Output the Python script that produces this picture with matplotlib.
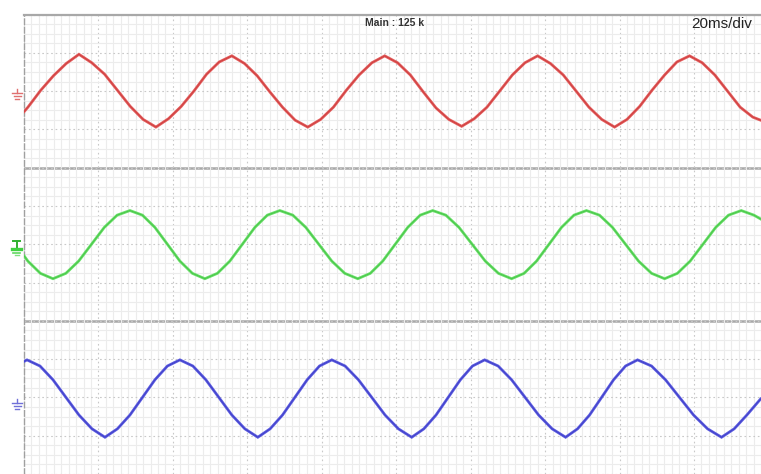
import matplotlib
matplotlib.use("Agg")
import matplotlib.pyplot as plt
from matplotlib.lines import Line2D

# Time base 20 ms/div; traces in screen divisions relative to each channel's ground level
t_red = [0.0, 1.06, 4.49, 7.91, 11.34, 14.77,
         18.21, 21.66, 25.11, 28.55, 32.0, 35.44,
         38.84, 42.24, 45.64, 49.04, 52.44, 55.84,
         59.24, 62.64, 66.04, 69.44, 72.84, 76.24,
         79.69, 83.13, 86.58, 90.02, 93.47, 96.91,
         100.36, 103.8, 107.25, 110.69, 114.14, 117.58,
         120.98, 124.38, 127.79, 131.19, 134.59, 137.99,
         141.44, 144.88, 148.33, 151.77, 155.22, 158.66,
         162.0, 165.4, 168.7, 172.1, 175.4, 178.8,
         182.2, 185.6, 189.0, 192.4, 195.8, 197.9]
v_red = [-0.27, -0.21, 0.01, 0.20, 0.36, 0.48,
         0.37, 0.22, 0.01, -0.20, -0.37, -0.47,
         -0.36, -0.20, 0.0, 0.22, 0.38, 0.46,
         0.36, 0.20, -0.01, -0.21, -0.38, -0.47,
         -0.37, -0.21, 0.01, 0.21, 0.37, 0.46,
         0.37, 0.21, -0.01, -0.22, -0.37, -0.46,
         -0.36, -0.21, 0.0, 0.21, 0.37, 0.46,
         0.36, 0.21, 0.0, -0.21, -0.37, -0.47,
         -0.37, -0.20, 0.01, 0.21, 0.38, 0.46,
         0.37, 0.21, 0.0, -0.21, -0.34, -0.38]

t_green = [0.0, 1.03, 4.41, 7.79,
           11.24, 14.68, 18.13, 21.57, 25.02, 28.46,
           31.82, 35.17, 38.53, 41.88, 45.24, 48.59,
           51.95, 55.30, 58.66, 62.02, 65.37, 68.73,
           72.22, 75.71, 79.2, 82.69, 86.18, 89.67,
           93.03, 96.38, 99.74, 103.09, 106.45, 109.8,
           113.33, 116.87, 120.4, 123.93, 127.47, 131.0,
           134.35, 137.7, 141.05, 144.4, 147.75, 151.1,
           154.6, 158.1, 161.6, 165.1, 168.6, 172.1,
           175.53, 178.97, 182.4, 185.83, 189.27, 192.7,
           196.1, 197.9]
v_green = [-0.15, -0.22, -0.38, -0.45,
           -0.38, -0.22, 0.0, 0.22, 0.38, 0.44,
           0.38, 0.22, 0.0, -0.22, -0.38, -0.45,
           -0.38, -0.22, 0.0, 0.22, 0.38, 0.44,
           0.38, 0.22, 0.0, -0.22, -0.38, -0.45,
           -0.38, -0.22, 0.0, 0.22, 0.38, 0.44,
           0.38, 0.22, 0.0, -0.22, -0.38, -0.45,
           -0.38, -0.22, 0.0, 0.22, 0.38, 0.44,
           0.38, 0.22, 0.0, -0.22, -0.38, -0.45,
           -0.38, -0.22, 0.0, 0.22, 0.38, 0.44,
           0.38, 0.33]

t_blue = [0.0, 0.81,
          4.30, 7.79, 11.28, 14.77, 18.26, 21.75,
          25.1, 28.46, 31.82, 35.17, 38.53, 41.88,
          45.37, 48.86, 52.35, 55.84, 59.33, 62.82,
          66.13, 69.45, 72.76, 76.07, 79.38, 82.69,
          86.27, 89.85, 93.43, 97.0, 100.58, 104.16,
          107.43, 110.69, 113.96, 117.23, 120.49, 123.76,
          127.38, 131.0, 134.63, 138.25, 141.88, 145.5,
          148.72, 151.94, 155.17, 158.39, 161.61, 164.83,
          168.59, 172.35, 176.11, 179.88, 183.64, 187.4,
          190.8, 194.2, 197.9]
v_blue = [0.47, 0.49,
          0.41, 0.23, 0.0, -0.23, -0.41, -0.52,
          -0.41, -0.23, 0.0, 0.23, 0.41, 0.49,
          0.41, 0.23, 0.0, -0.23, -0.41, -0.52,
          -0.41, -0.23, 0.0, 0.23, 0.41, 0.49,
          0.41, 0.23, 0.0, -0.23, -0.41, -0.52,
          -0.41, -0.23, 0.0, 0.23, 0.41, 0.49,
          0.41, 0.23, 0.0, -0.23, -0.41, -0.52,
          -0.41, -0.23, 0.0, 0.23, 0.41, 0.49,
          0.41, 0.23, 0.0, -0.23, -0.41, -0.52,
          -0.41, -0.23, -0.02]

channel_levels = {"red": 5.0, "green": 3.0, "blue": 1.0}

W, H = 761, 474
fig = plt.figure(figsize=(W / 100, H / 100), dpi=100)
fig.patch.set_facecolor("white")
ax = fig.add_axes([24 / W, 0, 1 - 24 / W, 1 - 14.5 / H])
ax.set_xlim(0, 197.9)
ax.set_ylim(0.03, 6.0)

# graticule
ax.set_xticks([20 * i for i in range(10)])
ax.set_xticks([2 * i for i in range(100)], minor=True)
ax.set_yticks([0.5 * i for i in range(13)])
ax.set_yticks([0.125 * i for i in range(49)], minor=True)
ax.grid(which="minor", color="#ececec", lw=0.8, zorder=0)
ax.grid(which="major", color="#c8c8c8", lw=0.8, ls=(0, (1.5, 2.5)), zorder=0)
ax.tick_params(which="both", length=0, labelbottom=False, labelleft=False)
for s in ["right", "bottom"]:
    ax.spines[s].set_visible(False)
ax.spines["top"].set_color("#a8a8a8")
ax.spines["top"].set_linewidth(1.6)
ax.spines["left"].set_color("#a0a0a0")
ax.spines["left"].set_linewidth(1.0)
ax.spines["left"].set_linestyle((0, (4, 2)))
for lvl in (2.0, 4.0):
    ax.axhline(lvl, color="#a8a8a8", lw=1.8, zorder=1)

traces = [
    (t_red, v_red, channel_levels["red"], "#e45a5a", "#b52a2a"),
    (t_green, v_green, channel_levels["green"], "#66e066", "#2fa82f"),
    (t_blue, v_blue, channel_levels["blue"], "#5a5ae0", "#2a2ab0"),
]
for t, v, lvl, c, dark in traces:
    y = [lvl + val for val in v]
    ax.plot(t, y, color=c, lw=2.0, solid_joinstyle="miter", zorder=3)
    ax.plot(t, y, color=dark, lw=0.6, alpha=0.55, zorder=4)


def fig_line(xs, ys, color, lw=1.0):
    fig.add_artist(Line2D([x / W for x in xs], [1 - y / H for y in ys],
                          color=color, lw=lw, transform=fig.transFigure))


def ground(cx, cy, color):
    fig_line([cx, cx], [cy - 5, cy - 1], color)
    fig_line([cx - 5, cx + 5], [cy - 1, cy - 1], color)
    fig_line([cx - 3.5, cx + 3.5], [cy + 2, cy + 2], color)
    fig_line([cx - 2, cx + 2], [cy + 5, cy + 5], color)


ground(17, 94, "#e07070")
ground(17, 404, "#7070d8")
# green channel marker
fig_line([13, 20], [241, 241], "#30b030", 1.4)
fig_line([16.5, 16.5], [241, 248], "#30b030", 1.4)
fig_line([12, 21], [249, 249], "#40d040", 2.4)
fig_line([13, 20], [252.5, 252.5], "#60d860", 1.2)
fig_line([14.5, 18.5], [255, 255], "#80e080", 1.0)

fig.text(395 / W, 1 - 23.5 / H, "Main : 125 k", ha="center", va="center",
         fontsize=7.5, fontweight="bold", color="#333333",
         family=["Liberation Sans", "DejaVu Sans"])
fig.text(752 / W, 1 - 24 / H, "20ms/div", ha="right", va="center",
         fontsize=11, color="#222222",
         family=["Liberation Sans", "DejaVu Sans"])

fig.savefig("out.png", dpi=100, facecolor="white")
